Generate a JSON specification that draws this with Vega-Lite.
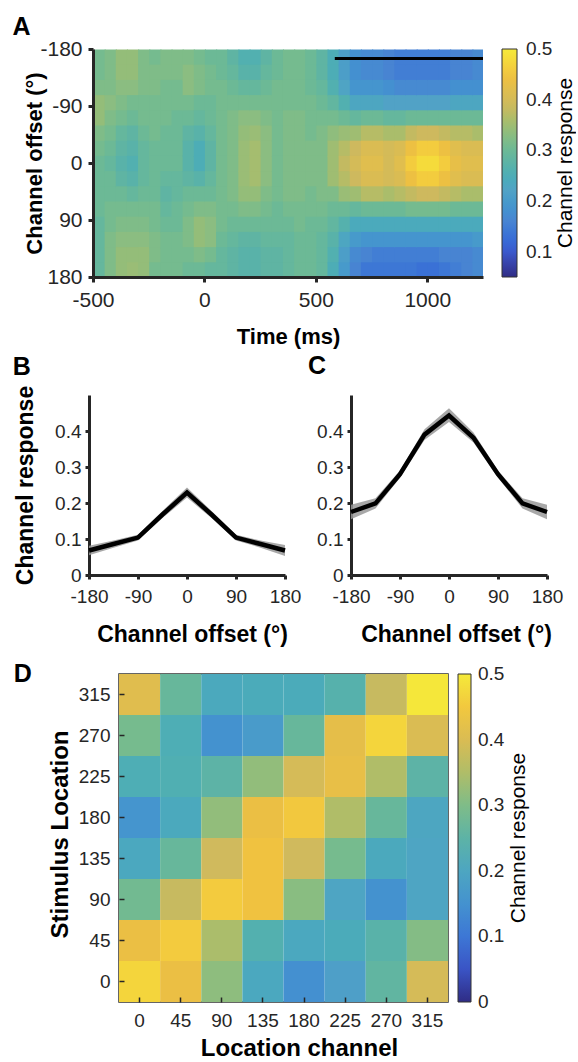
{
"$schema":"https://vega.github.io/schema/vega-lite/v6.json",
"background":"white",
"padding":{"left":4,"top":15,"right":0,"bottom":0},
"config":{"font":"Liberation Sans","view":{"stroke":null},
"axis":{"grid":false,"labelFlush":false,"labelOverlap":false,"labelFont":"Liberation Sans","titleFont":"Liberation Sans","labelColor":"#262626","titleColor":"#000000","titleFontWeight":"bold","domainColor":"#262626","tickColor":"#262626"},
"legend":{"labelFont":"Liberation Sans","titleFont":"Liberation Sans"},
"title":{"font":"Liberation Sans","fontWeight":"bold","color":"#000000","anchor":"start","frame":"group"}},
"datasets":{
"heat":[
{"t":-500,"o":-180,"v":0.31},{"t":-500,"o":-156,"v":0.31},{"t":-500,"o":-132,"v":0.32},{"t":-500,"o":-108,"v":0.34},{"t":-500,"o":-84,"v":0.34},{"t":-500,"o":-60,"v":0.32},{"t":-500,"o":-36,"v":0.31},{"t":-500,"o":-12,"v":0.3},{"t":-500,"o":12,"v":0.3},{"t":-500,"o":36,"v":0.3},{"t":-500,"o":60,"v":0.3},{"t":-500,"o":84,"v":0.29},{"t":-500,"o":108,"v":0.29},{"t":-500,"o":132,"v":0.29},{"t":-500,"o":156,"v":0.29},
{"t":-450,"o":-180,"v":0.32},{"t":-450,"o":-156,"v":0.32},{"t":-450,"o":-132,"v":0.32},{"t":-450,"o":-108,"v":0.33},{"t":-450,"o":-84,"v":0.32},{"t":-450,"o":-60,"v":0.31},{"t":-450,"o":-36,"v":0.3},{"t":-450,"o":-12,"v":0.29},{"t":-450,"o":12,"v":0.3},{"t":-450,"o":36,"v":0.3},{"t":-450,"o":60,"v":0.31},{"t":-450,"o":84,"v":0.31},{"t":-450,"o":108,"v":0.32},{"t":-450,"o":132,"v":0.32},{"t":-450,"o":156,"v":0.32},
{"t":-400,"o":-180,"v":0.34},{"t":-400,"o":-156,"v":0.34},{"t":-400,"o":-132,"v":0.33},{"t":-400,"o":-108,"v":0.32},{"t":-400,"o":-84,"v":0.31},{"t":-400,"o":-60,"v":0.29},{"t":-400,"o":-36,"v":0.28},{"t":-400,"o":-12,"v":0.27},{"t":-400,"o":12,"v":0.28},{"t":-400,"o":36,"v":0.3},{"t":-400,"o":60,"v":0.31},{"t":-400,"o":84,"v":0.32},{"t":-400,"o":108,"v":0.33},{"t":-400,"o":132,"v":0.34},{"t":-400,"o":156,"v":0.34},
{"t":-350,"o":-180,"v":0.34},{"t":-350,"o":-156,"v":0.34},{"t":-350,"o":-132,"v":0.33},{"t":-350,"o":-108,"v":0.31},{"t":-350,"o":-84,"v":0.3},{"t":-350,"o":-60,"v":0.28},{"t":-350,"o":-36,"v":0.27},{"t":-350,"o":-12,"v":0.26},{"t":-350,"o":12,"v":0.27},{"t":-350,"o":36,"v":0.29},{"t":-350,"o":60,"v":0.31},{"t":-350,"o":84,"v":0.32},{"t":-350,"o":108,"v":0.33},{"t":-350,"o":132,"v":0.34},{"t":-350,"o":156,"v":0.345},
{"t":-300,"o":-180,"v":0.32},{"t":-300,"o":-156,"v":0.32},{"t":-300,"o":-132,"v":0.32},{"t":-300,"o":-108,"v":0.31},{"t":-300,"o":-84,"v":0.31},{"t":-300,"o":-60,"v":0.3},{"t":-300,"o":-36,"v":0.29},{"t":-300,"o":-12,"v":0.29},{"t":-300,"o":12,"v":0.29},{"t":-300,"o":36,"v":0.3},{"t":-300,"o":60,"v":0.31},{"t":-300,"o":84,"v":0.32},{"t":-300,"o":108,"v":0.33},{"t":-300,"o":132,"v":0.34},{"t":-300,"o":156,"v":0.34},
{"t":-250,"o":-180,"v":0.31},{"t":-250,"o":-156,"v":0.32},{"t":-250,"o":-132,"v":0.32},{"t":-250,"o":-108,"v":0.31},{"t":-250,"o":-84,"v":0.31},{"t":-250,"o":-60,"v":0.31},{"t":-250,"o":-36,"v":0.3},{"t":-250,"o":-12,"v":0.3},{"t":-250,"o":12,"v":0.3},{"t":-250,"o":36,"v":0.3},{"t":-250,"o":60,"v":0.31},{"t":-250,"o":84,"v":0.31},{"t":-250,"o":108,"v":0.32},{"t":-250,"o":132,"v":0.32},{"t":-250,"o":156,"v":0.31},
{"t":-200,"o":-180,"v":0.32},{"t":-200,"o":-156,"v":0.32},{"t":-200,"o":-132,"v":0.31},{"t":-200,"o":-108,"v":0.31},{"t":-200,"o":-84,"v":0.31},{"t":-200,"o":-60,"v":0.3},{"t":-200,"o":-36,"v":0.3},{"t":-200,"o":-12,"v":0.3},{"t":-200,"o":12,"v":0.29},{"t":-200,"o":36,"v":0.28},{"t":-200,"o":60,"v":0.29},{"t":-200,"o":84,"v":0.3},{"t":-200,"o":108,"v":0.31},{"t":-200,"o":132,"v":0.31},{"t":-200,"o":156,"v":0.31},
{"t":-150,"o":-180,"v":0.32},{"t":-150,"o":-156,"v":0.32},{"t":-150,"o":-132,"v":0.31},{"t":-150,"o":-108,"v":0.31},{"t":-150,"o":-84,"v":0.3},{"t":-150,"o":-60,"v":0.3},{"t":-150,"o":-36,"v":0.3},{"t":-150,"o":-12,"v":0.3},{"t":-150,"o":12,"v":0.29},{"t":-150,"o":36,"v":0.29},{"t":-150,"o":60,"v":0.3},{"t":-150,"o":84,"v":0.3},{"t":-150,"o":108,"v":0.31},{"t":-150,"o":132,"v":0.31},{"t":-150,"o":156,"v":0.31},
{"t":-100,"o":-180,"v":0.32},{"t":-100,"o":-156,"v":0.33},{"t":-100,"o":-132,"v":0.33},{"t":-100,"o":-108,"v":0.31},{"t":-100,"o":-84,"v":0.3},{"t":-100,"o":-60,"v":0.28},{"t":-100,"o":-36,"v":0.27},{"t":-100,"o":-12,"v":0.27},{"t":-100,"o":12,"v":0.28},{"t":-100,"o":36,"v":0.3},{"t":-100,"o":60,"v":0.31},{"t":-100,"o":84,"v":0.32},{"t":-100,"o":108,"v":0.32},{"t":-100,"o":132,"v":0.31},{"t":-100,"o":156,"v":0.3},
{"t":-50,"o":-180,"v":0.31},{"t":-50,"o":-156,"v":0.32},{"t":-50,"o":-132,"v":0.32},{"t":-50,"o":-108,"v":0.3},{"t":-50,"o":-84,"v":0.29},{"t":-50,"o":-60,"v":0.27},{"t":-50,"o":-36,"v":0.25},{"t":-50,"o":-12,"v":0.25},{"t":-50,"o":12,"v":0.27},{"t":-50,"o":36,"v":0.3},{"t":-50,"o":60,"v":0.32},{"t":-50,"o":84,"v":0.34},{"t":-50,"o":108,"v":0.34},{"t":-50,"o":132,"v":0.32},{"t":-50,"o":156,"v":0.3},
{"t":0,"o":-180,"v":0.3},{"t":0,"o":-156,"v":0.31},{"t":0,"o":-132,"v":0.31},{"t":0,"o":-108,"v":0.3},{"t":0,"o":-84,"v":0.3},{"t":0,"o":-60,"v":0.29},{"t":0,"o":-36,"v":0.28},{"t":0,"o":-12,"v":0.28},{"t":0,"o":12,"v":0.29},{"t":0,"o":36,"v":0.3},{"t":0,"o":60,"v":0.32},{"t":0,"o":84,"v":0.33},{"t":0,"o":108,"v":0.33},{"t":0,"o":132,"v":0.31},{"t":0,"o":156,"v":0.29},
{"t":50,"o":-180,"v":0.3},{"t":50,"o":-156,"v":0.3},{"t":50,"o":-132,"v":0.31},{"t":50,"o":-108,"v":0.31},{"t":50,"o":-84,"v":0.31},{"t":50,"o":-60,"v":0.31},{"t":50,"o":-36,"v":0.31},{"t":50,"o":-12,"v":0.31},{"t":50,"o":12,"v":0.31},{"t":50,"o":36,"v":0.31},{"t":50,"o":60,"v":0.31},{"t":50,"o":84,"v":0.31},{"t":50,"o":108,"v":0.3},{"t":50,"o":132,"v":0.29},{"t":50,"o":156,"v":0.29},
{"t":100,"o":-180,"v":0.28},{"t":100,"o":-156,"v":0.29},{"t":100,"o":-132,"v":0.3},{"t":100,"o":-108,"v":0.31},{"t":100,"o":-84,"v":0.32},{"t":100,"o":-60,"v":0.32},{"t":100,"o":-36,"v":0.32},{"t":100,"o":-12,"v":0.32},{"t":100,"o":12,"v":0.32},{"t":100,"o":36,"v":0.32},{"t":100,"o":60,"v":0.31},{"t":100,"o":84,"v":0.3},{"t":100,"o":108,"v":0.29},{"t":100,"o":132,"v":0.28},{"t":100,"o":156,"v":0.28},
{"t":150,"o":-180,"v":0.26},{"t":150,"o":-156,"v":0.27},{"t":150,"o":-132,"v":0.29},{"t":150,"o":-108,"v":0.31},{"t":150,"o":-84,"v":0.33},{"t":150,"o":-60,"v":0.34},{"t":150,"o":-36,"v":0.345},{"t":150,"o":-12,"v":0.345},{"t":150,"o":12,"v":0.345},{"t":150,"o":36,"v":0.34},{"t":150,"o":60,"v":0.32},{"t":150,"o":84,"v":0.3},{"t":150,"o":108,"v":0.28},{"t":150,"o":132,"v":0.27},{"t":150,"o":156,"v":0.27},
{"t":200,"o":-180,"v":0.26},{"t":200,"o":-156,"v":0.27},{"t":200,"o":-132,"v":0.29},{"t":200,"o":-108,"v":0.31},{"t":200,"o":-84,"v":0.33},{"t":200,"o":-60,"v":0.345},{"t":200,"o":-36,"v":0.355},{"t":200,"o":-12,"v":0.355},{"t":200,"o":12,"v":0.355},{"t":200,"o":36,"v":0.34},{"t":200,"o":60,"v":0.32},{"t":200,"o":84,"v":0.3},{"t":200,"o":108,"v":0.28},{"t":200,"o":132,"v":0.27},{"t":200,"o":156,"v":0.27},
{"t":250,"o":-180,"v":0.28},{"t":250,"o":-156,"v":0.29},{"t":250,"o":-132,"v":0.3},{"t":250,"o":-108,"v":0.31},{"t":250,"o":-84,"v":0.32},{"t":250,"o":-60,"v":0.33},{"t":250,"o":-36,"v":0.33},{"t":250,"o":-12,"v":0.33},{"t":250,"o":12,"v":0.33},{"t":250,"o":36,"v":0.32},{"t":250,"o":60,"v":0.31},{"t":250,"o":84,"v":0.3},{"t":250,"o":108,"v":0.29},{"t":250,"o":132,"v":0.28},{"t":250,"o":156,"v":0.28},
{"t":300,"o":-180,"v":0.3},{"t":300,"o":-156,"v":0.3},{"t":300,"o":-132,"v":0.31},{"t":300,"o":-108,"v":0.31},{"t":300,"o":-84,"v":0.31},{"t":300,"o":-60,"v":0.31},{"t":300,"o":-36,"v":0.31},{"t":300,"o":-12,"v":0.31},{"t":300,"o":12,"v":0.31},{"t":300,"o":36,"v":0.31},{"t":300,"o":60,"v":0.3},{"t":300,"o":84,"v":0.3},{"t":300,"o":108,"v":0.29},{"t":300,"o":132,"v":0.28},{"t":300,"o":156,"v":0.28},
{"t":350,"o":-180,"v":0.31},{"t":350,"o":-156,"v":0.31},{"t":350,"o":-132,"v":0.31},{"t":350,"o":-108,"v":0.31},{"t":350,"o":-84,"v":0.32},{"t":350,"o":-60,"v":0.32},{"t":350,"o":-36,"v":0.32},{"t":350,"o":-12,"v":0.32},{"t":350,"o":12,"v":0.32},{"t":350,"o":36,"v":0.32},{"t":350,"o":60,"v":0.31},{"t":350,"o":84,"v":0.3},{"t":350,"o":108,"v":0.29},{"t":350,"o":132,"v":0.29},{"t":350,"o":156,"v":0.29},
{"t":400,"o":-180,"v":0.31},{"t":400,"o":-156,"v":0.31},{"t":400,"o":-132,"v":0.31},{"t":400,"o":-108,"v":0.31},{"t":400,"o":-84,"v":0.32},{"t":400,"o":-60,"v":0.32},{"t":400,"o":-36,"v":0.32},{"t":400,"o":-12,"v":0.32},{"t":400,"o":12,"v":0.32},{"t":400,"o":36,"v":0.32},{"t":400,"o":60,"v":0.31},{"t":400,"o":84,"v":0.31},{"t":400,"o":108,"v":0.3},{"t":400,"o":132,"v":0.3},{"t":400,"o":156,"v":0.3},
{"t":450,"o":-180,"v":0.3},{"t":450,"o":-156,"v":0.3},{"t":450,"o":-132,"v":0.3},{"t":450,"o":-108,"v":0.31},{"t":450,"o":-84,"v":0.31},{"t":450,"o":-60,"v":0.31},{"t":450,"o":-36,"v":0.32},{"t":450,"o":-12,"v":0.32},{"t":450,"o":12,"v":0.32},{"t":450,"o":36,"v":0.31},{"t":450,"o":60,"v":0.31},{"t":450,"o":84,"v":0.3},{"t":450,"o":108,"v":0.3},{"t":450,"o":132,"v":0.3},{"t":450,"o":156,"v":0.3},
{"t":500,"o":-180,"v":0.28},{"t":500,"o":-156,"v":0.28},{"t":500,"o":-132,"v":0.29},{"t":500,"o":-108,"v":0.3},{"t":500,"o":-84,"v":0.31},{"t":500,"o":-60,"v":0.32},{"t":500,"o":-36,"v":0.32},{"t":500,"o":-12,"v":0.32},{"t":500,"o":12,"v":0.32},{"t":500,"o":36,"v":0.32},{"t":500,"o":60,"v":0.31},{"t":500,"o":84,"v":0.3},{"t":500,"o":108,"v":0.29},{"t":500,"o":132,"v":0.29},{"t":500,"o":156,"v":0.29},
{"t":550,"o":-180,"v":0.25},{"t":550,"o":-156,"v":0.25},{"t":550,"o":-132,"v":0.26},{"t":550,"o":-108,"v":0.285},{"t":550,"o":-84,"v":0.31},{"t":550,"o":-60,"v":0.335},{"t":550,"o":-36,"v":0.35},{"t":550,"o":-12,"v":0.35},{"t":550,"o":12,"v":0.35},{"t":550,"o":36,"v":0.32},{"t":550,"o":60,"v":0.3},{"t":550,"o":84,"v":0.285},{"t":550,"o":108,"v":0.27},{"t":550,"o":132,"v":0.26},{"t":550,"o":156,"v":0.25},
{"t":600,"o":-180,"v":0.21},{"t":600,"o":-156,"v":0.21},{"t":600,"o":-132,"v":0.225},{"t":600,"o":-108,"v":0.26},{"t":600,"o":-84,"v":0.3},{"t":600,"o":-60,"v":0.345},{"t":600,"o":-36,"v":0.37},{"t":600,"o":-12,"v":0.38},{"t":600,"o":12,"v":0.37},{"t":600,"o":36,"v":0.345},{"t":600,"o":60,"v":0.3},{"t":600,"o":84,"v":0.265},{"t":600,"o":108,"v":0.23},{"t":600,"o":132,"v":0.21},{"t":600,"o":156,"v":0.2},
{"t":650,"o":-180,"v":0.18},{"t":650,"o":-156,"v":0.18},{"t":650,"o":-132,"v":0.19},{"t":650,"o":-108,"v":0.23},{"t":650,"o":-84,"v":0.29},{"t":650,"o":-60,"v":0.35},{"t":650,"o":-36,"v":0.39},{"t":650,"o":-12,"v":0.4},{"t":650,"o":12,"v":0.39},{"t":650,"o":36,"v":0.35},{"t":650,"o":60,"v":0.29},{"t":650,"o":84,"v":0.24},{"t":650,"o":108,"v":0.2},{"t":650,"o":132,"v":0.17},{"t":650,"o":156,"v":0.16},
{"t":700,"o":-180,"v":0.17},{"t":700,"o":-156,"v":0.17},{"t":700,"o":-132,"v":0.19},{"t":700,"o":-108,"v":0.23},{"t":700,"o":-84,"v":0.3},{"t":700,"o":-60,"v":0.37},{"t":700,"o":-36,"v":0.41},{"t":700,"o":-12,"v":0.42},{"t":700,"o":12,"v":0.41},{"t":700,"o":36,"v":0.37},{"t":700,"o":60,"v":0.3},{"t":700,"o":84,"v":0.24},{"t":700,"o":108,"v":0.19},{"t":700,"o":132,"v":0.16},{"t":700,"o":156,"v":0.14},
{"t":750,"o":-180,"v":0.17},{"t":750,"o":-156,"v":0.17},{"t":750,"o":-132,"v":0.19},{"t":750,"o":-108,"v":0.23},{"t":750,"o":-84,"v":0.3},{"t":750,"o":-60,"v":0.37},{"t":750,"o":-36,"v":0.41},{"t":750,"o":-12,"v":0.42},{"t":750,"o":12,"v":0.41},{"t":750,"o":36,"v":0.37},{"t":750,"o":60,"v":0.3},{"t":750,"o":84,"v":0.24},{"t":750,"o":108,"v":0.19},{"t":750,"o":132,"v":0.15},{"t":750,"o":156,"v":0.14},
{"t":800,"o":-180,"v":0.16},{"t":800,"o":-156,"v":0.16},{"t":800,"o":-132,"v":0.18},{"t":800,"o":-108,"v":0.22},{"t":800,"o":-84,"v":0.29},{"t":800,"o":-60,"v":0.36},{"t":800,"o":-36,"v":0.4},{"t":800,"o":-12,"v":0.4},{"t":800,"o":12,"v":0.4},{"t":800,"o":36,"v":0.36},{"t":800,"o":60,"v":0.3},{"t":800,"o":84,"v":0.24},{"t":800,"o":108,"v":0.19},{"t":800,"o":132,"v":0.15},{"t":800,"o":156,"v":0.14},
{"t":850,"o":-180,"v":0.15},{"t":850,"o":-156,"v":0.15},{"t":850,"o":-132,"v":0.17},{"t":850,"o":-108,"v":0.22},{"t":850,"o":-84,"v":0.29},{"t":850,"o":-60,"v":0.36},{"t":850,"o":-36,"v":0.41},{"t":850,"o":-12,"v":0.42},{"t":850,"o":12,"v":0.41},{"t":850,"o":36,"v":0.37},{"t":850,"o":60,"v":0.3},{"t":850,"o":84,"v":0.24},{"t":850,"o":108,"v":0.19},{"t":850,"o":132,"v":0.15},{"t":850,"o":156,"v":0.14},
{"t":900,"o":-180,"v":0.15},{"t":900,"o":-156,"v":0.15},{"t":900,"o":-132,"v":0.17},{"t":900,"o":-108,"v":0.22},{"t":900,"o":-84,"v":0.3},{"t":900,"o":-60,"v":0.38},{"t":900,"o":-36,"v":0.44},{"t":900,"o":-12,"v":0.46},{"t":900,"o":12,"v":0.44},{"t":900,"o":36,"v":0.38},{"t":900,"o":60,"v":0.31},{"t":900,"o":84,"v":0.24},{"t":900,"o":108,"v":0.19},{"t":900,"o":132,"v":0.15},{"t":900,"o":156,"v":0.14},
{"t":950,"o":-180,"v":0.15},{"t":950,"o":-156,"v":0.15},{"t":950,"o":-132,"v":0.17},{"t":950,"o":-108,"v":0.22},{"t":950,"o":-84,"v":0.3},{"t":950,"o":-60,"v":0.39},{"t":950,"o":-36,"v":0.46},{"t":950,"o":-12,"v":0.48},{"t":950,"o":12,"v":0.46},{"t":950,"o":36,"v":0.39},{"t":950,"o":60,"v":0.31},{"t":950,"o":84,"v":0.24},{"t":950,"o":108,"v":0.19},{"t":950,"o":132,"v":0.15},{"t":950,"o":156,"v":0.13},
{"t":1000,"o":-180,"v":0.15},{"t":1000,"o":-156,"v":0.15},{"t":1000,"o":-132,"v":0.17},{"t":1000,"o":-108,"v":0.22},{"t":1000,"o":-84,"v":0.3},{"t":1000,"o":-60,"v":0.39},{"t":1000,"o":-36,"v":0.46},{"t":1000,"o":-12,"v":0.48},{"t":1000,"o":12,"v":0.46},{"t":1000,"o":36,"v":0.39},{"t":1000,"o":60,"v":0.31},{"t":1000,"o":84,"v":0.24},{"t":1000,"o":108,"v":0.19},{"t":1000,"o":132,"v":0.15},{"t":1000,"o":156,"v":0.13},
{"t":1050,"o":-180,"v":0.15},{"t":1050,"o":-156,"v":0.15},{"t":1050,"o":-132,"v":0.17},{"t":1050,"o":-108,"v":0.22},{"t":1050,"o":-84,"v":0.3},{"t":1050,"o":-60,"v":0.38},{"t":1050,"o":-36,"v":0.44},{"t":1050,"o":-12,"v":0.46},{"t":1050,"o":12,"v":0.44},{"t":1050,"o":36,"v":0.38},{"t":1050,"o":60,"v":0.31},{"t":1050,"o":84,"v":0.24},{"t":1050,"o":108,"v":0.19},{"t":1050,"o":132,"v":0.16},{"t":1050,"o":156,"v":0.14},
{"t":1100,"o":-180,"v":0.16},{"t":1100,"o":-156,"v":0.16},{"t":1100,"o":-132,"v":0.18},{"t":1100,"o":-108,"v":0.23},{"t":1100,"o":-84,"v":0.3},{"t":1100,"o":-60,"v":0.37},{"t":1100,"o":-36,"v":0.42},{"t":1100,"o":-12,"v":0.43},{"t":1100,"o":12,"v":0.42},{"t":1100,"o":36,"v":0.37},{"t":1100,"o":60,"v":0.3},{"t":1100,"o":84,"v":0.24},{"t":1100,"o":108,"v":0.19},{"t":1100,"o":132,"v":0.16},{"t":1100,"o":156,"v":0.15},
{"t":1150,"o":-180,"v":0.16},{"t":1150,"o":-156,"v":0.16},{"t":1150,"o":-132,"v":0.18},{"t":1150,"o":-108,"v":0.23},{"t":1150,"o":-84,"v":0.3},{"t":1150,"o":-60,"v":0.37},{"t":1150,"o":-36,"v":0.41},{"t":1150,"o":-12,"v":0.42},{"t":1150,"o":12,"v":0.41},{"t":1150,"o":36,"v":0.36},{"t":1150,"o":60,"v":0.3},{"t":1150,"o":84,"v":0.24},{"t":1150,"o":108,"v":0.19},{"t":1150,"o":132,"v":0.16},{"t":1150,"o":156,"v":0.16},
{"t":1200,"o":-180,"v":0.17},{"t":1200,"o":-156,"v":0.17},{"t":1200,"o":-132,"v":0.18},{"t":1200,"o":-108,"v":0.23},{"t":1200,"o":-84,"v":0.3},{"t":1200,"o":-60,"v":0.36},{"t":1200,"o":-36,"v":0.41},{"t":1200,"o":-12,"v":0.42},{"t":1200,"o":12,"v":0.41},{"t":1200,"o":36,"v":0.36},{"t":1200,"o":60,"v":0.3},{"t":1200,"o":84,"v":0.24},{"t":1200,"o":108,"v":0.2},{"t":1200,"o":132,"v":0.17},{"t":1200,"o":156,"v":0.17}
],
"sig":[{"start":585,"end":1250,"o":-165}],
"lineB":[
{"o":-180,"v":0.068,"lo":0.055,"hi":0.081},{"o":-135,"v":0.086,"lo":0.076,"hi":0.096},{"o":-90,"v":0.104,"lo":0.096,"hi":0.112},{"o":-45,"v":0.168,"lo":0.158,"hi":0.178},{"o":0,"v":0.229,"lo":0.215,"hi":0.243},{"o":45,"v":0.168,"lo":0.158,"hi":0.178},{"o":90,"v":0.104,"lo":0.096,"hi":0.112},{"o":135,"v":0.086,"lo":0.076,"hi":0.096},{"o":180,"v":0.068,"lo":0.053,"hi":0.083}
],
"lineC":[
{"o":-180,"v":0.175,"lo":0.155,"hi":0.195},{"o":-135,"v":0.199,"lo":0.185,"hi":0.213},{"o":-90,"v":0.28,"lo":0.27,"hi":0.29},{"o":-45,"v":0.39,"lo":0.375,"hi":0.405},{"o":0,"v":0.443,"lo":0.425,"hi":0.463},{"o":45,"v":0.381,"lo":0.368,"hi":0.396},{"o":90,"v":0.28,"lo":0.27,"hi":0.29},{"o":135,"v":0.199,"lo":0.185,"hi":0.213},{"o":180,"v":0.175,"lo":0.155,"hi":0.195}
],
"mat":[
{"s":315,"c":0,"v":0.41},{"s":315,"c":45,"v":0.27},{"s":315,"c":90,"v":0.21},{"s":315,"c":135,"v":0.215},{"s":315,"c":180,"v":0.215},{"s":315,"c":225,"v":0.24},{"s":315,"c":270,"v":0.37},{"s":315,"c":315,"v":0.495},
{"s":270,"c":0,"v":0.29},{"s":270,"c":45,"v":0.225},{"s":270,"c":90,"v":0.15},{"s":270,"c":135,"v":0.17},{"s":270,"c":180,"v":0.27},{"s":270,"c":225,"v":0.42},{"s":270,"c":270,"v":0.47},{"s":270,"c":315,"v":0.4},
{"s":225,"c":0,"v":0.225},{"s":225,"c":45,"v":0.23},{"s":225,"c":90,"v":0.25},{"s":225,"c":135,"v":0.32},{"s":225,"c":180,"v":0.39},{"s":225,"c":225,"v":0.425},{"s":225,"c":270,"v":0.35},{"s":225,"c":315,"v":0.25},
{"s":180,"c":0,"v":0.155},{"s":180,"c":45,"v":0.21},{"s":180,"c":90,"v":0.32},{"s":180,"c":135,"v":0.43},{"s":180,"c":180,"v":0.45},{"s":180,"c":225,"v":0.35},{"s":180,"c":270,"v":0.27},{"s":180,"c":315,"v":0.2},
{"s":135,"c":0,"v":0.205},{"s":135,"c":45,"v":0.27},{"s":135,"c":90,"v":0.38},{"s":135,"c":135,"v":0.44},{"s":135,"c":180,"v":0.38},{"s":135,"c":225,"v":0.29},{"s":135,"c":270,"v":0.21},{"s":135,"c":315,"v":0.195},
{"s":90,"c":0,"v":0.285},{"s":90,"c":45,"v":0.37},{"s":90,"c":90,"v":0.455},{"s":90,"c":135,"v":0.44},{"s":90,"c":180,"v":0.31},{"s":90,"c":225,"v":0.195},{"s":90,"c":270,"v":0.15},{"s":90,"c":315,"v":0.195},
{"s":45,"c":0,"v":0.43},{"s":45,"c":45,"v":0.455},{"s":45,"c":90,"v":0.345},{"s":45,"c":135,"v":0.235},{"s":45,"c":180,"v":0.205},{"s":45,"c":225,"v":0.215},{"s":45,"c":270,"v":0.245},{"s":45,"c":315,"v":0.305},
{"s":0,"c":0,"v":0.47},{"s":0,"c":45,"v":0.43},{"s":0,"c":90,"v":0.315},{"s":0,"c":135,"v":0.205},{"s":0,"c":180,"v":0.145},{"s":0,"c":225,"v":0.18},{"s":0,"c":270,"v":0.26},{"s":0,"c":315,"v":0.39}
]
},
"resolve":{"scale":{"color":"independent"},"legend":{"color":"independent"}},
"columns":1,
"align":"none",
"spacing":7,
"concat":[
{"hconcat":[
{"width":1,"height":1,"data":{"values":[]},"mark":"point"},
{
"width":390,"height":228,
"title":{"text":"A","fontSize":25,"dx":-80.5,"offset":0,"dy":2},
"layer":[
{"data":{"name":"heat"},"mark":{"type":"rect","binSpacing":0,"clip":true},
"encoding":{
"x":{"field":"t","type":"quantitative","bin":{"binned":true,"step":55},"scale":{"domain":[-500,1250],"nice":false,"zero":false},
"axis":{"title":"Time (ms)","values":[-500,0,500,1000],"labelExpr":"'' + datum.value","labelFontSize":21,"labelPadding":7,"tickSize":5,"tickWidth":3,"domainWidth":3,"titleFontSize":22,"titleX":195,"titleY":66,"titleBaseline":"alphabetic"}},
"y":{"field":"o","type":"quantitative","bin":{"binned":true,"step":25.6},"scale":{"domain":[-180,180],"reverse":true,"nice":false,"zero":false},
"axis":{"title":"Channel offset (°)","values":[-180,-90,0,90,180],"labelExpr":"'' + datum.value","labelFontSize":21,"labelPadding":6,"tickSize":5,"tickWidth":3,"domainWidth":3,"titleFontSize":22,"titleX":-52,"titleY":114,"titleBaseline":"alphabetic"}},
"color":{"field":"v","type":"quantitative","scale":{"domain":[0.05,0.5],"range":["#2f2c85","#3a5fd6","#4a86d2","#52a2c6","#5db3a6","#8cbd80","#cdb95f","#f0c040","#f5ea3a"]},
"legend":{"type":"gradient","title":"Channel response","orient":"right","offset":19,"padding":0,"gradientLength":228,"gradientThickness":15,"gradientStrokeColor":"#333333","gradientStrokeWidth":1,"values":[0.1,0.2,0.3,0.4,0.5],"labelExpr":"'' + datum.value","labelFontSize":19,"labelColor":"#262626","labelOffset":9,"labelBaseline":"middle","labelOverlap":false,"titleOrient":"right","titleFontSize":21,"titleFontWeight":"normal","titleColor":"#000000","titlePadding":3,"titleAnchor":"middle","encode":{"labels":{"update":{"baseline":{"value":"middle"}}},"title":{"update":{"angle":{"value":-90},"baseline":{"value":"top"}}}}}}
}},
{"data":{"name":"sig"},"mark":{"type":"rule","color":"#000000","strokeWidth":3},
"encoding":{"x":{"field":"start","type":"quantitative"},"x2":{"field":"end"},"y":{"field":"o","type":"quantitative"}}}
]
}],
"spacing":7,
"resolve":{"scale":{"color":"independent"},"legend":{"color":"independent"}}},
{
"columns":1,
"align":"none",
"spacing":15,
"resolve":{"scale":{"color":"independent"},"legend":{"color":"independent"}},
"concat":[
{"spacing":7,
"hconcat":[
{"width":1,"height":1,"data":{"values":[]},"mark":"point"},
{"width":196,"height":180,
"title":{"text":"B","fontSize":25,"dx":-76.3,"offset":5},
"data":{"name":"lineB"},
"layer":[
{"mark":{"type":"area","color":"#999999","opacity":0.85},
"encoding":{"x":{"field":"o","type":"quantitative","scale":{"domain":[-180,180],"nice":false},
"axis":{"title":"Channel offset (°)","values":[-180,-90,0,90,180],"labelExpr":"'' + datum.value","labelFontSize":19,"labelPadding":8,"tickSize":4,"tickWidth":3,"domainWidth":3,"titleFontSize":23,"titleX":103,"titleY":66,"titleBaseline":"alphabetic"}},
"y":{"field":"lo","type":"quantitative","scale":{"domain":[0,0.5],"nice":false},
"axis":{"title":"Channel response","values":[0,0.1,0.2,0.3,0.4],"labelExpr":"'' + datum.value","labelFontSize":19,"labelPadding":4,"tickSize":4,"tickWidth":3,"domainWidth":3,"titleFontSize":23,"titleX":-57,"titleY":90,"titleBaseline":"alphabetic"}},
"y2":{"field":"hi"}}},
{"mark":{"type":"line","color":"#000000","strokeWidth":4.5},
"encoding":{"x":{"field":"o","type":"quantitative"},"y":{"field":"v","type":"quantitative"}}}
]},
{"width":196,"height":180,
"title":{"text":"C","fontSize":25,"dx":-43,"offset":16},
"data":{"name":"lineC"},
"layer":[
{"mark":{"type":"area","color":"#999999","opacity":0.85},
"encoding":{"x":{"field":"o","type":"quantitative","scale":{"domain":[-180,180],"nice":false},
"axis":{"title":"Channel offset (°)","values":[-180,-90,0,90,180],"labelExpr":"'' + datum.value","labelFontSize":19,"labelPadding":8,"tickSize":4,"tickWidth":3,"domainWidth":3,"titleFontSize":23,"titleX":105,"titleY":66,"titleBaseline":"alphabetic"}},
"y":{"field":"lo","type":"quantitative","scale":{"domain":[0,0.5],"nice":false},
"axis":{"title":null,"values":[0,0.1,0.2,0.3,0.4],"labelExpr":"'' + datum.value","labelFontSize":19,"labelPadding":4,"tickSize":4,"tickWidth":3,"domainWidth":3}},
"y2":{"field":"hi"}}},
{"mark":{"type":"line","color":"#000000","strokeWidth":4.5},
"encoding":{"x":{"field":"o","type":"quantitative"},"y":{"field":"v","type":"quantitative"}}}
]}
]},
{"spacing":7,
"resolve":{"scale":{"color":"independent"},"legend":{"color":"independent"}},
"hconcat":[
{"width":1,"height":1,"data":{"values":[]},"mark":"point"},
{"width":329,"height":328,
"title":{"text":"D","fontSize":25,"dx":-105.3,"offset":0,"dy":13},
"data":{"name":"mat"},
"view":{"stroke":"#333333","strokeWidth":1.5},
"mark":{"type":"rect"},
"encoding":{
"x":{"field":"c","type":"ordinal","scale":{"domain":[0,45,90,135,180,225,270,315],"paddingInner":0,"paddingOuter":0},
"axis":{"title":"Location channel","labelAngle":0,"labelFontSize":19,"labelPadding":14,"tickSize":-5,"tickWidth":1.5,"domain":false,"titleFontSize":24,"titleX":180,"titleY":53,"titleBaseline":"alphabetic"}},
"y":{"field":"s","type":"ordinal","scale":{"domain":[315,270,225,180,135,90,45,0],"paddingInner":0,"paddingOuter":0},
"axis":{"title":"Stimulus Location","labelFontSize":19,"labelPadding":14,"tickSize":-5,"tickWidth":1.5,"domain":false,"titleFontSize":24,"titleX":-52,"titleY":160,"titleBaseline":"alphabetic"}},
"color":{"field":"v","type":"quantitative","scale":{"domain":[0,0.5],"range":["#2f2c85","#3a5fd6","#4a86d2","#52a2c6","#5db3a6","#8cbd80","#cdb95f","#f0c040","#f5ea3a"]},
"legend":{"type":"gradient","title":"Channel response","orient":"right","offset":10,"padding":0,"gradientLength":328,"gradientThickness":13,"gradientStrokeColor":"#333333","gradientStrokeWidth":1,"values":[0,0.1,0.2,0.3,0.4,0.5],"labelExpr":"'' + datum.value","labelFontSize":19,"labelColor":"#262626","labelOffset":7,"labelBaseline":"middle","labelOverlap":false,"titleOrient":"right","titleFontSize":21,"titleFontWeight":"normal","titleColor":"#000000","titlePadding":4,"titleAnchor":"middle","encode":{"labels":{"update":{"baseline":{"value":"middle"}}},"title":{"update":{"angle":{"value":-90},"baseline":{"value":"top"}}}}}}
}}
]}
]}
]
}
